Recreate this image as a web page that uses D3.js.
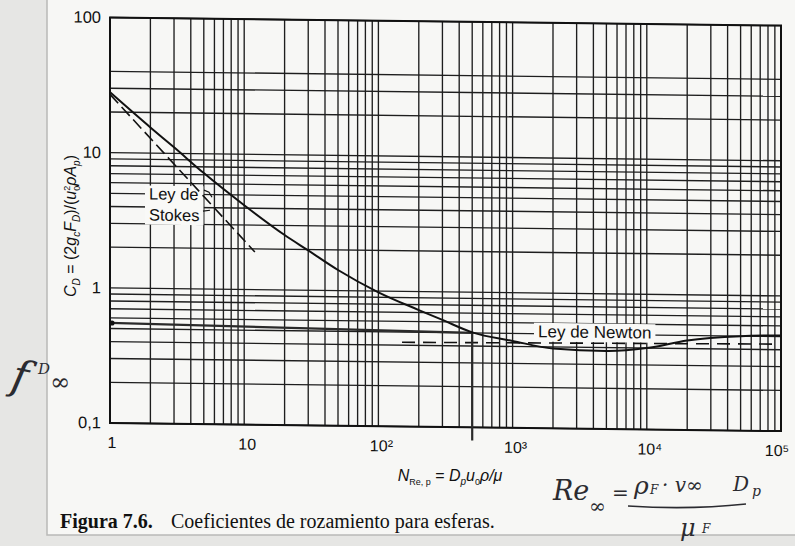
<!DOCTYPE html>
<html>
<head>
<meta charset="utf-8">
<script src="https://cdn.jsdelivr.net/npm/d3@7"></script>
<style>
body { margin: 0; background: #e6e6e4; }
svg { display: block; }
</style>
</head>
<body>
<svg id="chart" width="795" height="546"></svg>
<script>
// drag coefficient curve
var reValues = [1, 2, 3, 5, 10, 20, 30, 50, 100, 200, 300, 500, 1000, 2000, 5000, 10000, 20000, 50000, 100000];
var cdValues = [28, 15.5, 11.1, 7.2, 4.2, 2.55, 1.97, 1.42, 0.98, 0.73, 0.62, 0.505, 0.44, 0.39, 0.377, 0.40, 0.46, 0.50, 0.51];

// dashed asymptotes
var stokesRe = [1, 12];
var stokesCd = [27, 1.9];
var newtonRe = [150, 100000];
var newtonCd = [0.42, 0.44];

// pencil marks: horizontal to the curve, then down past the axis
var markRe = [1, 500, 500];
var markCd = [0.55, 0.5, 0.08];

// axis ticks
var xTicks = [1, 10, 100, 1000, 10000, 100000];
var xTickLabels = ["1", "10", "10\u00b2", "10\u00b3", "10\u2074", "10\u2075"];
var yTicks = [0.1, 1, 10, 100];
var yTickLabels = ["0,1", "1", "10", "100"];

var svg = d3.select("#chart");
var sans = "Liberation Sans, Arial, sans-serif";
var serif = "Liberation Serif, Times New Roman, serif";

// page
svg.append("rect").attr("x", 47).attr("y", -2).attr("width", 760).attr("height", 537)
  .attr("fill", "#f7f7f5").attr("stroke", "#b9b9b7").attr("stroke-width", 1.5);

var x = d3.scaleLog().domain([1, 1e5]).range([110, 781]);
var y = d3.scaleLog().domain([0.1, 100]).range([423, 17.5]);

// the scan is slightly sheared
var g = svg.append("g").attr("transform", "translate(0,-1.3) skewY(0.69)");

// grid
var xGrid = [];
[1, 10, 100, 1000, 10000].forEach(function(dec) {
  for (var k = 1; k <= 9; k++) xGrid.push(k * dec);
});
xGrid.push(1e5);
var yGrid = [];
[0.1, 1].forEach(function(dec) {
  for (var k = 1; k <= 9; k++) yGrid.push(k * dec);
});
[10, 20, 30, 40, 100].forEach(function(v) { yGrid.push(v); });

g.selectAll(".vgrid").data(xGrid).enter().append("line")
  .attr("x1", function(d) { return x(d); }).attr("x2", function(d) { return x(d); })
  .attr("y1", y(100)).attr("y2", y(0.1))
  .attr("stroke", "#1e1e1e").attr("stroke-width", 1.35);

g.selectAll(".hgrid").data(yGrid).enter().append("line")
  .attr("x1", x(1)).attr("x2", x(1e5))
  .attr("y1", function(d) { return y(d); }).attr("y2", function(d) { return y(d); })
  .attr("stroke", "#1e1e1e").attr("stroke-width", 1.35);

g.append("rect").attr("x", x(1)).attr("y", y(100))
  .attr("width", x(1e5) - x(1)).attr("height", y(0.1) - y(100))
  .attr("fill", "none").attr("stroke", "#111").attr("stroke-width", 2);

// labels sitting in white gaps of the grid
function boxLabel(lines, lx, ly, size, lh) {
  var t = g.append("g");
  var bg = t.append("rect").attr("fill", "#f9f9f7");
  var w = 0;
  lines.forEach(function(s, i) {
    var tx = t.append("text").attr("x", lx).attr("y", ly + i * lh)
      .attr("font-family", sans).attr("font-size", size).attr("fill", "#111").text(s);
    w = Math.max(w, tx.node().getComputedTextLength());
  });
  bg.attr("x", lx - 4).attr("y", ly - size * 0.85)
    .attr("width", w + 8).attr("height", (lines.length - 1) * lh + size * 1.1);
}
boxLabel(["Ley de", "Stokes"], 149, 199, 16.5, 21);
boxLabel(["Ley de Newton"], 538, 332, 17, 0);

var line = d3.line()
  .x(function(d) { return x(d[0]); })
  .y(function(d) { return y(d[1]); });

// small leaders from the Stokes label
g.append("path").attr("d", "M204,189 L209,191 L212,196").attr("fill", "none").attr("stroke", "#111").attr("stroke-width", 1.2);
g.append("path").attr("d", "M203,210 L210,209").attr("fill", "none").attr("stroke", "#111").attr("stroke-width", 1.2);

g.append("path").datum(d3.zip(stokesRe, stokesCd)).attr("d", line)
  .attr("fill", "none").attr("stroke", "#111").attr("stroke-width", 1.6)
  .attr("stroke-dasharray", "12,5");

g.append("path").datum(d3.zip(newtonRe, newtonCd)).attr("d", line)
  .attr("fill", "none").attr("stroke", "#111").attr("stroke-width", 1.6)
  .attr("stroke-dasharray", "13,8");

// pencil marks
g.append("path").datum(d3.zip(markRe, markCd)).attr("d", line)
  .attr("fill", "none").attr("stroke", "#2a2a2a").attr("stroke-width", 2.2);
g.append("circle").attr("cx", x(markRe[0]) + 2).attr("cy", y(markCd[0]))
  .attr("r", 2.6).attr("fill", "#111");

// drag curve
g.append("path").datum(d3.zip(reValues, cdValues))
  .attr("d", line.curve(d3.curveMonotoneX))
  .attr("fill", "none").attr("stroke", "#111").attr("stroke-width", 2);

// tick labels
g.selectAll(".xlab").data(xTicks).enter().append("text")
  .attr("x", function(d, i) { return x(d) + (i === 0 ? 2 : i === 5 ? -4 : 3); })
  .attr("y", 448)
  .attr("text-anchor", "middle")
  .attr("font-family", sans).attr("font-size", 16)
  .attr("fill", "#111")
  .text(function(d, i) { return xTickLabels[i]; });

g.selectAll(".ylab").data(yTicks).enter().append("text")
  .attr("x", 101).attr("y", function(d) { return y(d) + 5.5; })
  .attr("text-anchor", "end")
  .attr("font-family", sans).attr("font-size", 16.5)
  .attr("fill", "#111")
  .text(function(d, i) { return yTickLabels[i]; });

function part(sel, s, opt) {
  var ts = sel.append("tspan").text(s);
  if (opt && opt.it) ts.attr("font-style", "italic");
  if (opt && opt.dy) ts.attr("dy", opt.dy);
  if (opt && opt.dx) ts.attr("dx", opt.dx);
  if (opt && opt.size) ts.attr("font-size", opt.size);
  return ts;
}

// y axis title
var yt = svg.append("text")
  .attr("transform", "translate(76,226) rotate(-90)")
  .attr("text-anchor", "middle")
  .attr("font-family", sans).attr("font-size", 16)
  .attr("fill", "#111");
part(yt, "C", { it: 1 });
part(yt, "D", { it: 1, dy: 4, size: 10 });
part(yt, " = (2", { dy: -4 });
part(yt, "g", { it: 1 });
part(yt, "c", { it: 1, dy: 4, size: 10 });
part(yt, "F", { it: 1, dy: -4 });
part(yt, "D", { it: 1, dy: 4, size: 10 });
part(yt, ")/(", { dy: -4 });
part(yt, "u", { it: 1 });
part(yt, "0", { dy: 4, size: 9 });
part(yt, "2", { dy: -10, dx: -5, size: 9 });
part(yt, "\u03c1", { it: 1, dy: 6 });
part(yt, "A", { it: 1 });
part(yt, "p", { it: 1, dy: 4, size: 10 });
part(yt, ")", { dy: -4 });

// x axis title
var xt = svg.append("text")
  .attr("x", 450).attr("y", 481)
  .attr("text-anchor", "middle")
  .attr("font-family", sans).attr("font-size", 16)
  .attr("fill", "#111");
part(xt, "N", { it: 1 });
part(xt, "Re, p", { dy: 4, size: 9 });
part(xt, " = ", { dy: -4 });
part(xt, "D", { it: 1 });
part(xt, "p", { it: 1, dy: 4, size: 10 });
part(xt, "u", { it: 1, dy: -4 });
part(xt, "0", { dy: 4, size: 9 });
part(xt, "\u03c1/\u03bc", { it: 1, dy: -4 });

// caption
svg.append("text").attr("x", 60).attr("y", 528)
  .attr("font-family", serif).attr("font-size", 20)
  .attr("font-weight", "bold").attr("fill", "#111").text("Figura 7.6.");
svg.append("text").attr("x", 171).attr("y", 528)
  .attr("font-family", serif).attr("font-size", 20)
  .attr("fill", "#111").text("Coeficientes de rozamiento para esferas.");

// handwritten notes
var hand = svg.append("g").attr("fill", "#2b2b30")
  .attr("font-family", "DejaVu Serif, serif").attr("font-style", "italic");
hand.append("text").attr("x", 14).attr("y", 392).attr("font-size", 42)
  .attr("transform", "rotate(12,30,370)").text("f");
hand.append("text").attr("x", 38).attr("y", 374).attr("font-size", 15).text("D");
hand.append("text").attr("x", 50).attr("y", 390).attr("font-size", 24).text("\u221e");

hand.append("text").attr("x", 553).attr("y", 500).attr("font-size", 27).text("Re");
hand.append("text").attr("x", 589).attr("y", 513).attr("font-size", 20).text("\u221e");
hand.append("text").attr("x", 612).attr("y", 500).attr("font-size", 20).text("=");
hand.append("text").attr("x", 634).attr("y", 494).attr("font-size", 25).text("\u03c1");
hand.append("text").attr("x", 650).attr("y", 494).attr("font-size", 12).text("F");
hand.append("text").attr("x", 662).attr("y", 492).attr("font-size", 20).text("\u00b7 v\u221e");
hand.append("text").attr("x", 733).attr("y", 491).attr("font-size", 20).text("D");
hand.append("text").attr("x", 752).attr("y", 496).attr("font-size", 14).text("p");
hand.append("path").attr("d", "M628,506 Q690,510 746,504").attr("fill", "none")
  .attr("stroke", "#2b2b30").attr("stroke-width", 1.6);
hand.append("text").attr("x", 680).attr("y", 536).attr("font-size", 24).text("\u03bc");
hand.append("text").attr("x", 702).attr("y", 533).attr("font-size", 12).text("F");
</script>
</body>
</html>
